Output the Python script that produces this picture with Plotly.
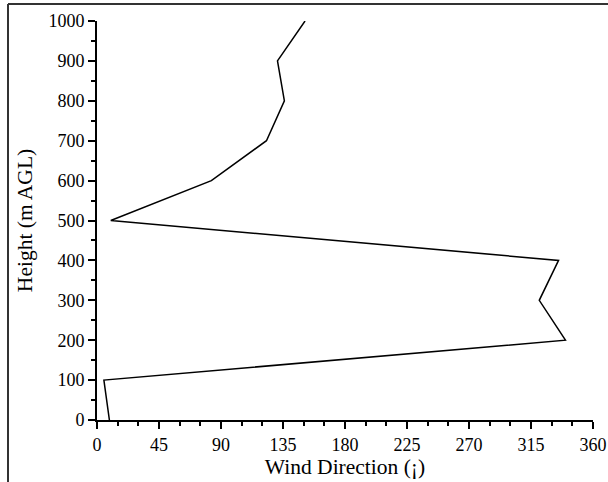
import plotly.graph_objects as go

heights = [0, 100, 200, 300, 400, 500, 600, 700, 800, 900, 1000]
directions = [9, 5, 340, 321, 335, 10, 83, 123, 136, 131, 151]

x_ticks = [0, 45, 90, 135, 180, 225, 270, 315, 360]
y_ticks = [0, 100, 200, 300, 400, 500, 600, 700, 800, 900, 1000]

W, H = 608, 482
ML, MR, MT, MB = 97, 15, 21, 62
pw, ph = W - ML - MR, H - MT - MB

def px(x):
    return (x - ML) / pw

def py(y):
    return (H - MB - y) / ph

fig = go.Figure()
fig.add_trace(go.Scatter(x=directions, y=heights, mode="lines",
                         line=dict(color="black", width=1.5),
                         showlegend=False, cliponaxis=False))

font = "Liberation Serif, Times New Roman, serif"
fig.update_layout(
    width=W, height=H,
    margin=dict(l=ML, r=MR, t=MT, b=MB, autoexpand=False),
    paper_bgcolor="white", plot_bgcolor="white",
    font=dict(family=font, color="black", size=18),
    xaxis=dict(range=[0, 360], tickvals=x_ticks, ticktext=[str(v) for v in x_ticks],
               automargin=False,
               showgrid=False, zeroline=False, showline=True, linecolor="black", linewidth=2,
               ticks="outside", ticklen=7, tickwidth=2, tickcolor="black",
               minor=dict(dtick=15, ticks="outside", ticklen=4, tickwidth=2, tickcolor="black"),
               title=dict(text="Wind Direction (¡)", font=dict(size=21.5), standoff=5),
               tickfont=dict(size=18)),
    yaxis=dict(range=[0, 1000], tickvals=y_ticks, ticktext=[str(v) for v in y_ticks],
               automargin=False,
               showgrid=False, zeroline=False, showline=True, linecolor="black", linewidth=2,
               ticks="outside", ticklen=7, tickwidth=2, tickcolor="black",
               minor=dict(dtick=50, ticks="outside", ticklen=4, tickwidth=2, tickcolor="black"),
               title=dict(text="Height (m AGL)", font=dict(size=21.5), standoff=10),
               tickfont=dict(size=18)),
    shapes=[
        dict(type="line", xref="paper", yref="paper", x0=px(8), x1=px(610), y0=py(4), y1=py(4),
             line=dict(color="#333333", width=2)),
        dict(type="line", xref="paper", yref="paper", x0=px(8), x1=px(8), y0=py(4), y1=py(484),
             line=dict(color="#333333", width=2)),
    ],
)

fig.write_html("out.html")
